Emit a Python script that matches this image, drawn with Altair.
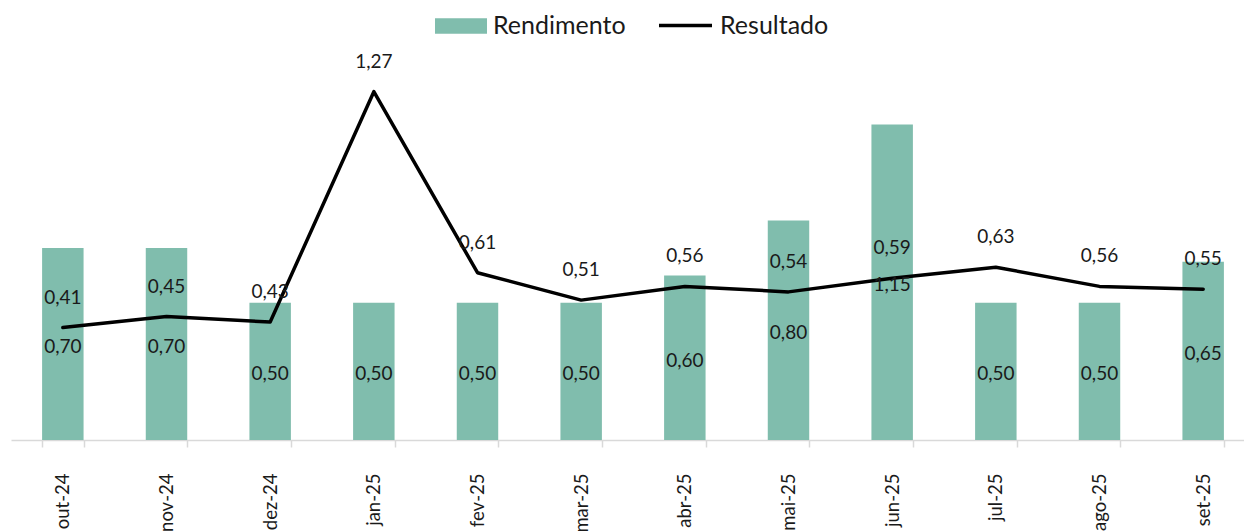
import altair as alt
import pandas as pd

meses = ["out-24", "nov-24", "dez-24", "jan-25", "fev-25", "mar-25",
         "abr-25", "mai-25", "jun-25", "jul-25", "ago-25", "set-25"]
rendimento = [0.70, 0.70, 0.50, 0.50, 0.50, 0.50, 0.60, 0.80, 1.15, 0.50, 0.50, 0.65]
resultado = [0.41, 0.45, 0.43, 1.27, 0.61, 0.51, 0.56, 0.54, 0.59, 0.63, 0.56, 0.55]

df = pd.DataFrame({
    "mes": meses,
    "rendimento": rendimento,
    "resultado": resultado,
    "serie_bar": "Rendimento",
    "serie_line": "Resultado",
})

FONT = "Lato"
TXT = "#1a1a1a"
GREEN = "#80bdad"

x = alt.X(
    "mes:N", sort=meses,
    scale=alt.Scale(paddingInner=0.6, paddingOuter=0.3, range=[0, 1244]),
    axis=alt.Axis(
        title=None, labelAngle=270, labelAlign="right", labelBaseline="middle",
        labelPadding=26, tickSize=7, tickBand="extent",
        domainColor="#d9d9d9", tickColor="#d9d9d9", domainWidth=1.5, tickWidth=1.5,
        labelFontSize=18.5, labelColor=TXT, labelFont=FONT,
    ),
)
yscale = alt.Scale(domain=[0, 1.4], nice=False, zero=True)

base = alt.Chart(df)

bars = base.mark_bar().encode(
    x=x,
    y=alt.Y("rendimento:Q", scale=yscale, axis=None),
    fill=alt.Fill(
        "serie_bar:N",
        scale=alt.Scale(domain=["Rendimento"], range=[GREEN]),
        legend=alt.Legend(
            title=None, orient="none", legendX=424, legendY=-56,
            symbolType="M-1,-0.3H1V0.3H-1Z", symbolSize=2704, symbolStrokeWidth=0,
            labelFontSize=25, labelFont=FONT, labelColor=TXT, labelOffset=6, padding=0,
        ),
    ),
)

line = base.mark_line(strokeWidth=3.5, strokeJoin="round", strokeCap="round").encode(
    x=x,
    y=alt.Y("resultado:Q", scale=yscale, axis=None),
    stroke=alt.Stroke(
        "serie_line:N",
        scale=alt.Scale(domain=["Resultado"], range=["black"]),
        legend=alt.Legend(
            title=None, orient="none", legendX=646, legendY=-59,
            symbolType="stroke", symbolSize=2809, symbolStrokeWidth=3.5,
            labelFontSize=25, labelFont=FONT, labelColor=TXT, labelOffset=6, padding=0,
        ),
    ),
)

bar_labels = base.transform_calculate(
    mid="datum.rendimento / 2",
    lab="replace(format(datum.rendimento, '.2f'), '.', ',')",
).mark_text(font=FONT, fontSize=19, color=TXT, baseline="middle", dy=3).encode(
    x=x,
    y=alt.Y("mid:Q", scale=yscale, axis=None),
    text="lab:N",
)

line_labels = base.transform_calculate(
    lab="replace(format(datum.resultado, '.2f'), '.', ',')",
).mark_text(font=FONT, fontSize=19, color=TXT, baseline="middle", dy=-30).encode(
    x=x,
    y=alt.Y("resultado:Q", scale=yscale, axis=None),
    text="lab:N",
)

chart = alt.layer(bars, line, bar_labels, line_labels).properties(
    width=1233,
    height=384,
    padding={"left": 3, "top": 48, "right": 0, "bottom": 91},
    autosize=alt.AutoSizeParams(type="none"),
    background="white",
).configure_view(stroke=None)

chart.save("out.html", embed_options={"renderer": "svg", "actions": False})
